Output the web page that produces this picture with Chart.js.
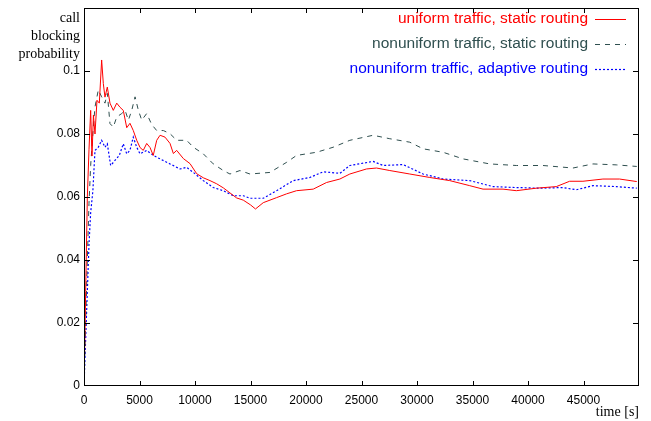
<!DOCTYPE html>
<html>
<head>
<meta charset="utf-8">
<script src="https://cdn.jsdelivr.net/npm/chart.js@4/dist/chart.umd.min.js"></script>
<style>
  body { margin: 0; background: #fff; }
</style>
</head>
<body>
<canvas id="chart" width="651" height="421"></canvas>
<script>
// tick labels
const xTicks = [0, 5000, 10000, 15000, 20000, 25000, 30000, 35000, 40000, 45000];
const yTicks = [0, 0.02, 0.04, 0.06, 0.08, 0.1];

// uniform traffic, static routing
const uniStaticT = [0, 150, 300, 450, 600, 720, 850, 990, 1170, 1380, 1590, 1740, 1890, 2100, 2340, 2640, 2950, 3240, 3540, 3850, 4140, 4440, 4750, 5050, 5340, 5650, 5950, 6240, 6550, 6850, 7300, 7750, 8050, 8350, 8950, 9550, 10150, 10750, 11350, 11950, 12550, 13150, 13750, 14350, 15000, 15450, 16150, 17350, 18250, 19150, 20650, 21850, 23050, 23950, 25450, 26350, 27550, 29350, 31150, 32950, 34750, 35950, 37750, 38950, 40750, 42550, 43750, 44950, 46750, 48250, 49800];
const uniStaticV = [0, 0.03, 0.06, 0.075, 0.0875, 0.073, 0.086, 0.08, 0.0907, 0.0898, 0.1035, 0.096, 0.0917, 0.0949, 0.0898, 0.0875, 0.0898, 0.0885, 0.0875, 0.082, 0.0834, 0.0811, 0.078, 0.0757, 0.0748, 0.077, 0.0757, 0.0732, 0.078, 0.0796, 0.079, 0.077, 0.0738, 0.0748, 0.0722, 0.0706, 0.0674, 0.0661, 0.0652, 0.0642, 0.0629, 0.0613, 0.0597, 0.059, 0.0575, 0.0562, 0.0582, 0.0598, 0.061, 0.062, 0.0625, 0.0646, 0.0657, 0.0673, 0.0689, 0.0692, 0.0684, 0.0673, 0.0662, 0.0652, 0.0636, 0.0625, 0.0625, 0.062, 0.0628, 0.0633, 0.065, 0.065, 0.0657, 0.0657, 0.0649];

// nonuniform traffic, static routing
const nonStaticT = [0, 150, 300, 450, 600, 840, 990, 1290, 1590, 1890, 2100, 2340, 2640, 2950, 3400, 3700, 4000, 4300, 4600, 4900, 5200, 5650, 6100, 6550, 7150, 7750, 8350, 9250, 9850, 10750, 11650, 12550, 13150, 14050, 14950, 16750, 18250, 19150, 20950, 22450, 23950, 26050, 27550, 29350, 30550, 32350, 34150, 36550, 38950, 41350, 44050, 45850, 47950, 49800];
const nonStaticV = [0, 0.02, 0.04, 0.058, 0.07, 0.0822, 0.0886, 0.094, 0.0918, 0.0898, 0.0929, 0.0833, 0.0822, 0.0854, 0.0865, 0.0875, 0.0844, 0.0875, 0.0918, 0.0875, 0.0844, 0.0865, 0.083, 0.0811, 0.0811, 0.0801, 0.078, 0.078, 0.0758, 0.0737, 0.0705, 0.0684, 0.0673, 0.0684, 0.0673, 0.0678, 0.071, 0.0732, 0.0742, 0.0758, 0.078, 0.0796, 0.0785, 0.0774, 0.0753, 0.0742, 0.0721, 0.0705, 0.07, 0.07, 0.0692, 0.0705, 0.0702, 0.0697];

// nonuniform traffic, adaptive routing
const nonAdaptT = [0, 150, 300, 450, 600, 800, 990, 1290, 1590, 1890, 2100, 2400, 2790, 3180, 3540, 3850, 4140, 4440, 4750, 5050, 5650, 6250, 6850, 7750, 8650, 9250, 9850, 10750, 11650, 12550, 13450, 14350, 14950, 16150, 17350, 18850, 20350, 21550, 23050, 23950, 26050, 26950, 28750, 30550, 32350, 34750, 36850, 38950, 41050, 43150, 44350, 45850, 47950, 49800];
const nonAdaptV = [0, 0.015, 0.03, 0.045, 0.055, 0.062, 0.0748, 0.0758, 0.078, 0.0758, 0.0769, 0.07, 0.0716, 0.0732, 0.0769, 0.0737, 0.0748, 0.079, 0.0758, 0.0737, 0.0748, 0.0732, 0.0721, 0.0705, 0.0689, 0.0694, 0.0678, 0.0652, 0.063, 0.062, 0.0604, 0.0604, 0.0596, 0.0596, 0.062, 0.0652, 0.0662, 0.068, 0.0675, 0.07, 0.0713, 0.07, 0.0703, 0.0673, 0.0657, 0.0652, 0.0633, 0.063, 0.0628, 0.063, 0.0623, 0.0636, 0.0633, 0.0628];

const toPoints = (t, v) => t.map((x, i) => ({ x: x, y: v[i] }));

const SANS = '"Liberation Sans", Arial, sans-serif';
const SERIF = '"Liberation Serif", "Times New Roman", serif';

// gnuplot-like frame with inward ticks on all four sides
const framePlugin = {
    id: 'frame',
    afterDatasetsDraw(chart) {
        const { ctx, chartArea: a, scales } = chart;
        ctx.save();
        ctx.strokeStyle = '#000';
        ctx.lineWidth = 1;
        ctx.strokeRect(a.left + 0.5, a.top + 0.5, a.right - a.left - 1, a.bottom - a.top - 1);
        ctx.beginPath();
        for (let v = 5000; v < 50000; v += 5000) {
            const x = Math.round(scales.x.getPixelForValue(v)) + 0.5;
            ctx.moveTo(x, a.bottom); ctx.lineTo(x, a.bottom - 5);
            ctx.moveTo(x, a.top); ctx.lineTo(x, a.top + 5);
        }
        for (let v = 0.02; v < 0.119; v += 0.02) {
            const y = Math.round(scales.y.getPixelForValue(v)) + 0.5;
            ctx.moveTo(a.left, y); ctx.lineTo(a.left + 6, y);
            ctx.moveTo(a.right, y); ctx.lineTo(a.right - 6, y);
        }
        ctx.stroke();
        ctx.restore();
    }
};

// legend top right: text right aligned, sample on its right
const keyPlugin = {
    id: 'key',
    afterDraw(chart) {
        const { ctx } = chart;
        ctx.save();
        ctx.font = '15.5px ' + SANS;
        ctx.textAlign = 'right';
        ctx.textBaseline = 'middle';
        chart.data.datasets.forEach((ds, i) => {
            const y = 19 + i * 25;
            ctx.fillStyle = ds.borderColor;
            ctx.fillText(ds.label, 588, y);
            ctx.strokeStyle = ds.borderColor;
            ctx.lineWidth = ds.borderWidth;
            ctx.setLineDash(ds.borderDash || []);
            ctx.beginPath();
            ctx.moveTo(595, Math.round(y) + 0.5);
            ctx.lineTo(626, Math.round(y) + 0.5);
            ctx.stroke();
        });
        ctx.setLineDash([]);
        // axis titles
        ctx.fillStyle = '#000';
        ctx.font = '14px ' + SERIF;
        ctx.fillText('call', 80, 18);
        ctx.fillText('blocking', 80, 36);
        ctx.fillText('probability', 80, 54);
        ctx.fillText('time [s]', 639, 412);
        ctx.restore();
    }
};

new Chart(document.getElementById('chart').getContext('2d'), {
    type: 'line',
    data: {
        datasets: [{
            label: 'uniform traffic, static routing',
            data: toPoints(uniStaticT, uniStaticV),
            borderColor: '#ff0000',
            borderWidth: 1
        }, {
            label: 'nonuniform traffic, static routing',
            data: toPoints(nonStaticT, nonStaticV),
            borderColor: '#2f4f4f',
            borderWidth: 1,
            borderDash: [5, 5]
        }, {
            label: 'nonuniform traffic, adaptive routing',
            data: toPoints(nonAdaptT, nonAdaptV),
            borderColor: '#0000ff',
            borderWidth: 1.2,
            borderDash: [2, 2]
        }]
    },
    options: {
        responsive: false,
        animation: false,
        layout: { padding: { top: 8, right: 12, left: 0, bottom: 0 } },
        elements: { point: { radius: 0 }, line: { tension: 0 } },
        plugins: { legend: { display: false }, tooltip: { enabled: false } },
        scales: {
            x: {
                type: 'linear',
                min: 0,
                max: 50000,
                afterFit: s => { s.height = 35; s.paddingLeft = 0; s.paddingRight = 0; },
                afterBuildTicks: s => { s.ticks = xTicks.map(v => ({ value: v })); },
                grid: { display: false, drawTicks: false },
                border: { display: false },
                ticks: {
                    color: '#000',
                    font: { family: SANS, size: 12 },
                    padding: 7,
                    maxRotation: 0,
                    callback: v => String(v)
                }
            },
            y: {
                min: 0,
                max: 0.12,
                afterFit: s => { s.width = 84; s.paddingTop = 0; s.paddingBottom = 0; },
                afterBuildTicks: s => { s.ticks = yTicks.map(v => ({ value: v })); },
                grid: { display: false, drawTicks: false },
                border: { display: false },
                ticks: {
                    color: '#000',
                    font: { family: SANS, size: 12 },
                    padding: 4,
                    callback: v => String(Math.round(v * 100) / 100)
                }
            }
        }
    },
    plugins: [framePlugin, keyPlugin]
});
</script>
</body>
</html>
